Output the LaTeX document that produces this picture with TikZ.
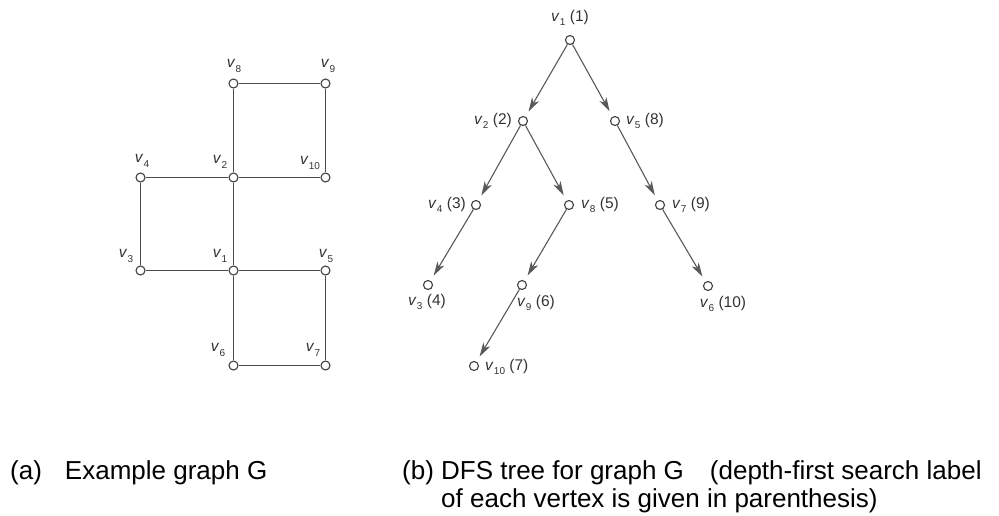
\documentclass[tikz,border=0pt]{standalone}
\usepackage{fontspec}
\setmainfont{Liberation Sans}
\usetikzlibrary{arrows.meta}
\newcommand\vlab[1]{\textit{v}\kern0.3pt\raisebox{-0.55ex}{\fontsize{10}{10}\selectfont #1}}
\begin{document}
\begin{tikzpicture}[x=1pt,y=-1pt,
  vtx/.style={circle,draw=black!75,fill=white,line width=1.1pt,minimum size=9pt,inner sep=0pt},
  edg/.style={draw=black!70,line width=1.2pt},
  arc/.style={draw=black!65,line width=1.1pt,-{Stealth[length=14pt,width=8pt,inset=4pt]},shorten >=6pt},
  lbl/.style={font=\fontsize{15.5}{16}\selectfont,inner sep=0pt,text=black!80},
  captxt/.style={font=\fontsize{26}{28}\selectfont,inner sep=0pt,anchor=base west}]
\useasboundingbox (0,0) rectangle (999,515);
% ---------- (a) example graph ----------
\node[vtx] (a8) at (233.5,83.5) {};
\node[vtx] (a9) at (325.5,83.5) {};
\node[vtx] (a4) at (140.5,177.5) {};
\node[vtx] (a2) at (233.5,177.5) {};
\node[vtx] (a10) at (325.5,177.5) {};
\node[vtx] (a3) at (140.5,270.5) {};
\node[vtx] (a1) at (233.5,270.5) {};
\node[vtx] (a5) at (325.5,270.5) {};
\node[vtx] (a6) at (233.5,365.5) {};
\node[vtx] (a7) at (325.5,365.5) {};
\draw[edg] (a8) -- (a9);
\draw[edg] (a9) -- (a10);
\draw[edg] (a8) -- (a2);
\draw[edg] (a4) -- (a2);
\draw[edg] (a2) -- (a10);
\draw[edg] (a4) -- (a3);
\draw[edg] (a2) -- (a1);
\draw[edg] (a3) -- (a1);
\draw[edg] (a1) -- (a5);
\draw[edg] (a1) -- (a6);
\draw[edg] (a5) -- (a7);
\draw[edg] (a6) -- (a7);
\node[lbl] (la8) at (234,66) {\vlab{8}};
\node[lbl] (la9) at (328,66) {\vlab{9}};
\node[lbl] (la4) at (142,161) {\vlab{4}};
\node[lbl] (la2) at (220,162) {\vlab{2}};
\node[lbl] (la10) at (310,163) {\vlab{10}};
\node[lbl] (la3) at (126,256) {\vlab{3}};
\node[lbl] (la1) at (220,256) {\vlab{1}};
\node[lbl] (la5) at (326,256) {\vlab{5}};
\node[lbl] (la6) at (218,350) {\vlab{6}};
\node[lbl] (la7) at (313,350) {\vlab{7}};
% ---------- (b) DFS tree ----------
\node[vtx] (b1) at (570,40) {};
\node[vtx] (b2) at (523,121) {};
\node[vtx] (b5) at (615,121) {};
\node[vtx] (b4) at (476,205) {};
\node[vtx] (b8) at (569,205) {};
\node[vtx] (b7) at (660,205) {};
\node[vtx] (b3) at (428,285) {};
\node[vtx] (b9) at (522,285) {};
\node[vtx] (b6) at (708,286) {};
\node[vtx] (b10) at (474,366) {};
\draw[arc] (b1) -- (b2);
\draw[arc] (b1) -- (b5);
\draw[arc] (b2) -- (b4);
\draw[arc] (b2) -- (b8);
\draw[arc] (b4) -- (b3);
\draw[arc] (b8) -- (b9);
\draw[arc] (b9) -- (b10);
\draw[arc] (b5) -- (b7);
\draw[arc] (b7) -- (b6);
\node[lbl] (lb1) at (570,18) {\vlab{1} (1)};
\node[lbl,anchor=east] (lb2) at (512,121) {\vlab{2} (2)};
\node[lbl,anchor=west] (lb5) at (626,121) {\vlab{5} (8)};
\node[lbl,anchor=east] (lb4) at (466,205) {\vlab{4} (3)};
\node[lbl,anchor=west] (lb8) at (581,205) {\vlab{8} (5)};
\node[lbl,anchor=west] (lb7) at (672,205) {\vlab{7} (9)};
\node[lbl] (lb3) at (427,302) {\vlab{3} (4)};
\node[lbl] (lb9) at (536,303) {\vlab{9} (6)};
\node[lbl] (lb6) at (723,304) {\vlab{6} (10)};
\node[lbl,anchor=west] (lb10) at (485,367) {\vlab{10} (7)};
% ---------- captions ----------
\node[captxt] (capa) at (10,479) {(a)\hspace{23pt}Example graph G};
\node[captxt] (capb1) at (402,479) {(b) DFS tree for graph G\hspace{26pt}(depth-first search label};
\node[captxt] (capb2) at (441,507) {of each vertex is given in parenthesis)};
\end{tikzpicture}
\end{document}
